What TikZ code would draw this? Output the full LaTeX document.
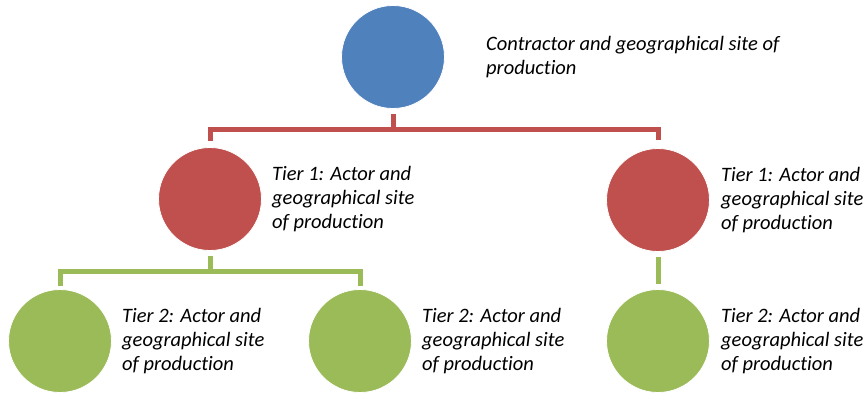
\documentclass[tikz,border=0pt]{standalone}
\usepackage{fontspec}
\setmainfont[Ligatures={NoCommon}]{Carlito}
\begin{document}
\begin{tikzpicture}[x=1pt,y=-1pt,
  dot/.style={circle,minimum size=103pt,inner sep=0pt,draw=white,line width=0.8pt},
  lbl/.style={anchor=west,align=left,inner sep=0pt,font=\fontsize{20.5}{24}\selectfont\itshape},
  redc/.style={draw={rgb,255:red,192;green,80;blue,77},line width=5pt},
  greenc/.style={draw={rgb,255:red,155;green,187;blue,89},line width=5pt}]
\definecolor{cblue}{RGB}{79,129,189}
\definecolor{cred}{RGB}{192,80,77}
\definecolor{cgreen}{RGB}{155,187,89}
\useasboundingbox (0,0) rectangle (867,394);
\node[dot,fill=cblue] (top) at (393,57) {};
\node[dot,fill=cred] (t1l) at (210,199) {};
\node[dot,fill=cred] (t1r) at (658,200) {};
\node[dot,fill=cgreen] (t2a) at (60,341) {};
\node[dot,fill=cgreen] (t2b) at (360,341) {};
\node[dot,fill=cgreen] (t2c) at (658,341) {};
\coordinate (rb) at (393,129);
\coordinate (gb) at (210,271);
\draw[redc] ([yshift=-5pt]top.south) -- (rb);
\draw[redc] ([yshift=6pt]t1l.north) |- (rb -| t1r.north) -- ([yshift=8pt]t1r.north);
\draw[greenc] ([yshift=-5pt]t1l.south) -- (gb);
\draw[greenc] ([yshift=3pt]t2a.north) |- (gb -| t2b.north) -- ([yshift=3pt]t2b.north);
\draw[greenc] ([yshift=-5pt]t1r.south) -- ([yshift=5pt]t2c.north);
\node[lbl] (ltop) at (486,57) {Contractor and geographical site of\\production};
\node[lbl] (l1l) at (272,199) {Tier 1: Actor and\\geographical site\\of production};
\node[lbl] (l1r) at (721,200) {Tier 1: Actor and\\geographical site\\of production};
\node[lbl] (l2a) at (122,341) {Tier 2: Actor and\\geographical site\\of production};
\node[lbl] (l2b) at (422,341) {Tier 2: Actor and\\geographical site\\of production};
\node[lbl] (l2c) at (721,341) {Tier 2: Actor and\\geographical site\\of production};
\end{tikzpicture}
\end{document}
